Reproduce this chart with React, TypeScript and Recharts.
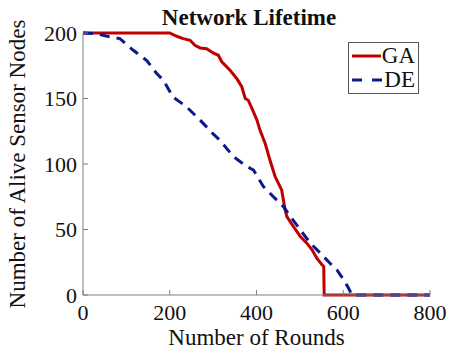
import { Line, LineChart, XAxis, YAxis } from "recharts";

const gaRounds = [0, 200, 216, 231, 247, 258, 270, 285, 300, 312, 320, 339, 355, 366, 374, 381, 393, 401, 408, 420, 431, 443, 458, 466, 470, 485, 501, 516, 528, 539, 551, 555, 556, 800];
const gaAlive = [200, 200, 197.5, 195.7, 194.4, 190.6, 188.6, 188, 184.8, 183, 178, 171.6, 165, 159, 150, 148.7, 139.8, 133.5, 125.9, 115.7, 103, 90.3, 80.2, 65, 59.9, 52.3, 44.7, 39.6, 34.5, 28.2, 23.1, 21.8, 0, 0];

const deRounds = [0, 31, 62, 85, 116, 147, 170, 185, 208, 239, 270, 300, 316, 347, 378, 393, 416, 439, 462, 478, 501, 524, 547, 570, 585, 601, 612, 620, 800];
const deAlive = [200, 199.5, 197, 195.7, 186.8, 179, 169, 164, 151, 143.6, 133.5, 123, 118, 105.6, 98, 95.4, 82.7, 75, 67.5, 60, 49.7, 39.6, 32, 24, 19.3, 11.7, 5.3, 0, 0];

const xTicks = [0, 200, 400, 600, 800];
const yTicks = [0, 50, 100, 150, 200];

const gaData = gaRounds.map((r, i) => ({ round: r, alive: gaAlive[i] }));
const deData = deRounds.map((r, i) => ({ round: r, alive: deAlive[i] }));

const font = "'Liberation Serif', serif";
const axisColor = "#808080";
const tickStyle = { fontSize: 22, fill: "#111", fontFamily: font };

function LegendBox() {
  return (
    <div style={{ position: "absolute", left: 348, top: 42, width: 71, height: 52, boxSizing: "border-box", border: "1px solid #555", background: "#fff", padding: "1px 3px", fontFamily: font, fontSize: 23, lineHeight: "24px", color: "#111" }}>
      <div style={{ display: "flex", alignItems: "center" }}>
        <svg width={33} height={10} style={{ marginRight: 1 }}><line x1={0} y1={5} x2={33} y2={5} stroke="#c00000" strokeWidth={3} /></svg>
        <span>GA</span>
      </div>
      <div style={{ display: "flex", alignItems: "center" }}>
        <svg width={33} height={10} style={{ marginRight: 1 }}><line x1={0} y1={5} x2={33} y2={5} stroke="#0a1a8c" strokeWidth={3} strokeDasharray="10 10" /></svg>
        <span>DE</span>
      </div>
    </div>
  );
}

export default function App() {
  return (
    <div style={{ position: "fixed", left: 0, top: 0, width: 452, height: 351, background: "#fff" }}>
      <div style={{ position: "absolute", left: 0, width: 498, top: 5, textAlign: "center", fontFamily: font, fontWeight: "bold", fontSize: 23, color: "#111" }}>
        Network Lifetime
      </div>
      <LineChart width={452} height={351} margin={{ top: 33, right: 22, bottom: 0, left: 0 }}>
        <XAxis
          xAxisId="b"
          type="number"
          dataKey="round"
          domain={[0, 800]}
          ticks={xTicks}
          stroke={axisColor}
          tick={tickStyle}
          tickSize={-5}
          tickMargin={14}
          height={56}
          label={{ value: "Number of Rounds", position: "insideBottom", offset: 6, style: { fontSize: 23, fill: "#111", fontFamily: font } }}
        />
        <XAxis xAxisId="t" orientation="top" type="number" domain={[0, 800]} ticks={xTicks} stroke={axisColor} tick={false} tickSize={-5} height={0} />
        <YAxis
          yAxisId="l"
          type="number"
          domain={[0, 200]}
          ticks={yTicks}
          stroke={axisColor}
          tick={tickStyle}
          tickSize={-5}
          tickMargin={11}
          width={83}
          label={{ value: "Number of Alive Sensor Nodes", angle: -90, position: "insideLeft", offset: 17, style: { fontSize: 23, fill: "#111", fontFamily: font, textAnchor: "middle" } }}
        />
        <YAxis yAxisId="r" orientation="right" type="number" domain={[0, 200]} ticks={yTicks} stroke={axisColor} tick={false} tickSize={-5} width={0} />
        <Line xAxisId="b" yAxisId="l" data={gaData} dataKey="alive" type="linear" stroke="#c00000" strokeWidth={3} dot={false} isAnimationActive={false} />
        <Line xAxisId="b" yAxisId="l" data={deData} dataKey="alive" type="linear" stroke="#0a1a8c" strokeWidth={3} strokeDasharray="10 7" dot={false} isAnimationActive={false} />
      </LineChart>
      <LegendBox />
    </div>
  );
}
